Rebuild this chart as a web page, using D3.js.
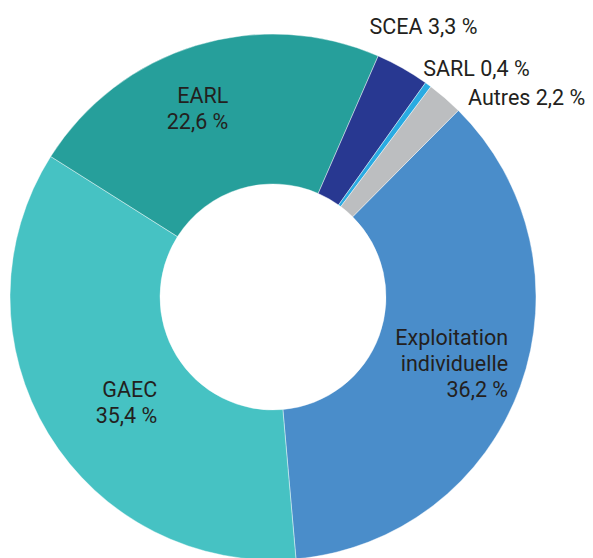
<!DOCTYPE html>
<html>
<head>
<meta charset="utf-8">
<script src="https://cdn.jsdelivr.net/npm/d3@7"></script>
<style>
  body { margin: 0; background: #fff; }
  svg text { font-family: Roboto, "Open Sans", sans-serif; font-size: 21.5px; fill: #231f20; }
</style>
</head>
<body>
<div id="chart"></div>
<script>
// statut juridique des exploitations (%)
var categories = ["Exploitation individuelle", "GAEC", "EARL", "SCEA", "SARL", "Autres"];
var values = [36.2, 35.4, 22.6, 3.3, 0.4, 2.2];
var valueLabels = ["36,2 %", "35,4 %", "22,6 %", "3,3 %", "0,4 %", "2,2 %"];
var colors = ["#4a8dca", "#46c2c3", "#269f9b", "#283891", "#29abe2", "#bcbec0"];

var width = 593, height = 558;
var cx = 273, cy = 297;
var outerR = 263, innerR = 113;

// label layout: lines, radius along mid angle, offsets, anchor
var labelLayout = [
    { lines: ["Exploitation", "individuelle", "36,2 %"], r: 200, dx: 47, dy: -20, anchor: "end" },
    { lines: ["GAEC", "35,4 %"], r: 200, dx: 55, dy: -4, anchor: "end" },
    { lines: ["EARL", "22,6 %"], r: 200, dx: 14, dy: -3, anchor: "end" },
    { lines: ["SCEA 3,3 %"], r: 263, dx: -33, dy: -34, anchor: "start" },
    { lines: ["SARL 0,4 %"], r: 263, dx: -5, dy: -9, anchor: "start" },
    { lines: ["Autres 2,2 %"], r: 263, dx: 23, dy: 7, anchor: "start" }
];

var data = categories.map(function(c, i) {
    return { name: c, value: values[i], label: valueLabels[i] };
});

var startDeg = 44.8;
var pie = d3.pie()
    .sort(null)
    .value(function(d) { return d.value; })
    .startAngle(startDeg * Math.PI / 180)
    .endAngle((startDeg + 360) * Math.PI / 180);

var arc = d3.arc().innerRadius(innerR).outerRadius(outerR);

var svg = d3.select("#chart").append("svg")
    .attr("width", width)
    .attr("height", height);

var g = svg.append("g")
    .attr("transform", "translate(" + cx + "," + cy + ")");

var arcs = pie(data);

g.selectAll(".slice")
    .data(arcs)
    .enter().append("path")
    .attr("class", "slice")
    .attr("d", arc)
    .style("fill", function(d, i) { return colors[i]; })
    .style("stroke", "#ffffff")
    .style("stroke-opacity", 0.6)
    .style("stroke-width", 0.7);

var labels = g.selectAll(".label")
    .data(arcs)
    .enter().append("text")
    .attr("class", "label")
    .attr("text-anchor", function(d, i) { return labelLayout[i].anchor; })
    .attr("transform", function(d, i) {
        var L = labelLayout[i];
        var a = (d.startAngle + d.endAngle) / 2;
        var x = L.r * Math.sin(a) + L.dx;
        var y = -L.r * Math.cos(a) + L.dy;
        return "translate(" + x + "," + y + ")";
    });

labels.selectAll("tspan")
    .data(function(d, i) { return labelLayout[i].lines; })
    .enter().append("tspan")
    .attr("x", 0)
    .attr("dy", function(d, j) { return j === 0 ? 0 : 26; })
    .text(function(d) { return d; });
</script>
</body>
</html>
